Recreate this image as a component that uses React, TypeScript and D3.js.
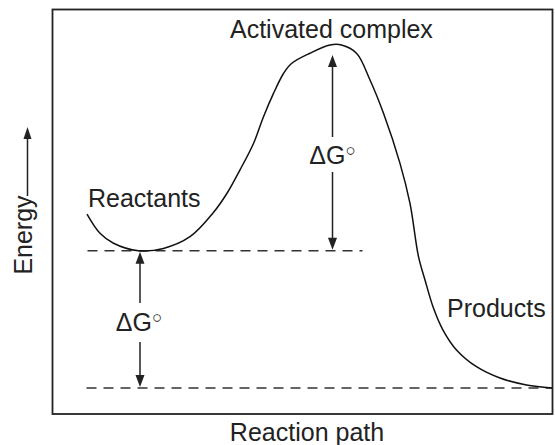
import React from "react";
import * as d3 from "d3";

// Reaction coordinate (0..100) and energy (products = 0, activated complex = 100)
const pathX = [6.9, 9.5, 12.2, 17.2, 22.2, 27.5, 32.1, 35.0, 37.5, 40.2, 42.2, 44.2, 46.2, 47.8, 51.5, 55.5, 57.8, 60.8, 63.5, 66.2, 69.5, 71.5, 73.2, 74.5, 76.1, 78.1, 80.8, 84.8, 89.5, 94.8, 99.9];
const energy = [50.7, 45.1, 42.2, 40.0, 40.7, 44.1, 51.0, 57.0, 63.6, 71.3, 79.1, 85.9, 91.7, 94.6, 97.6, 100, 100, 97.6, 89.8, 80.1, 65.5, 53.8, 38.3, 31.5, 23.7, 16.9, 11.1, 6.2, 2.9, 0.9, 0.0];

const levelNames = ["Reactants", "Products", "Activated complex"];
const levelEnergy = [40, 0, 100];
const reactantX = 17.5;
const peakX = 56;

const W = 555;
const H = 445;
const frame = { left: 52.5, right: 552.5, top: 9.5, bottom: 414 };

const x = d3.scaleLinear().domain([0, 100]).range([frame.left, frame.right]);
const y = d3.scaleLinear().domain([-7.58, 110.35]).range([frame.bottom, frame.top]);

const FONT = "'Liberation Sans', Arial, Helvetica, sans-serif";
const TXT = "#222";

function Arrow({ cx, y1, y2, gapTop, gapBottom }: { cx: number; y1: number; y2: number; gapTop: number; gapBottom: number }) {
  const hl = 12;
  const hw = 4.5;
  return (
    <g>
      <line x1={cx} x2={cx} y1={y1 + hl - 1} y2={gapTop} stroke="#222" strokeWidth={1.5} />
      <line x1={cx} x2={cx} y1={gapBottom} y2={y2 - hl + 1} stroke="#222" strokeWidth={1.5} />
      <path d={`M${cx},${y1} L${cx - hw},${y1 + hl} L${cx + hw},${y1 + hl} Z`} fill="#222" />
      <path d={`M${cx},${y2} L${cx - hw},${y2 - hl} L${cx + hw},${y2 - hl} Z`} fill="#222" />
    </g>
  );
}

function DeltaG({ cx, yb }: { cx: number; yb: number }) {
  return (
    <text x={cx} y={yb} textAnchor="middle">
      ΔG<tspan fontSize={17} dy={-8}>○</tspan>
    </text>
  );
}

export default function App() {
  const line = d3
    .line<number>()
    .x((_, i) => x(pathX[i]))
    .y((d) => y(d))
    .curve(d3.curveCatmullRom.alpha(0.5));
  const d = line(energy) || "";

  const yR = y(levelEnergy[0]);
  const yP = y(levelEnergy[1]);
  const yA = y(levelEnergy[2]);

  return (
    <svg width={W} height={H} style={{ position: "absolute", left: 0, top: 0, background: "#fff" }}>
      <rect x={frame.left} y={frame.top} width={frame.right - frame.left} height={frame.bottom - frame.top} fill="none" stroke="#222" strokeWidth={1.8} />
      {/* dashed levels */}
      <line x1={x(7)} x2={x(62)} y1={yR} y2={yR} stroke="#333" strokeWidth={1.6} strokeDasharray="10,7" />
      <line x1={x(6.8)} x2={frame.right} y1={yP} y2={yP} stroke="#333" strokeWidth={1.6} strokeDasharray="10,7" />
      {/* curve */}
      <path d={d} fill="none" stroke="#111" strokeWidth={1.5} />
      {/* arrows */}
      <Arrow cx={x(peakX)} y1={yA + 10} y2={yR - 1} gapTop={137} gapBottom={172} />
      <Arrow cx={x(reactantX)} y1={yR + 1} y2={yP - 1} gapTop={303} gapBottom={342} />
      {/* labels */}
      <g fontFamily={FONT} fontSize={25} fill={TXT}>
        <text x={230} y={38}>{levelNames[2]}</text>
        <text x={88} y={207}>{levelNames[0]}</text>
        <text x={447} y={317}>{levelNames[1]}</text>
        <DeltaG cx={x(peakX)} yb={164} />
        <DeltaG cx={x(reactantX) - 1} yb={330.5} />
        <text x={307} y={441} textAnchor="middle">Reaction path</text>
        <text transform="translate(31.5,235) rotate(-90)" textAnchor="middle">Energy</text>
      </g>
      {/* energy arrow */}
      <line x1={27.5} x2={27.5} y1={196} y2={138} stroke="#222" strokeWidth={1.5} />
      <path d="M27.5,127 L23.5,139 L31.5,139 Z" fill="#222" />
    </svg>
  );
}
